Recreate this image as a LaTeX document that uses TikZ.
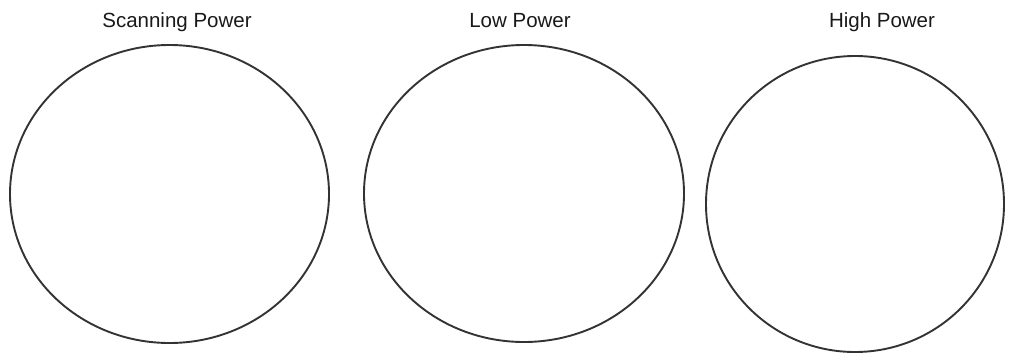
\documentclass[tikz,border=0pt]{standalone}
\usepackage{fontspec}
\setmainfont{Liberation Sans}
\begin{document}
\begin{tikzpicture}[x=1pt,y=-1pt,
  ring/.style={draw=black!80,line width=1.9pt},
  label/.style={font=\fontsize{20.5}{24}\selectfont,text=black!90,inner sep=0pt,anchor=base}]
\useasboundingbox (0,0) rectangle (1014,354);
\draw[ring] (169.5,194) ellipse [x radius=159.5,y radius=149];
\draw[ring] (524,193.5) ellipse [x radius=160,y radius=148.5];
\draw[ring] (855,204) ellipse [x radius=149,y radius=148];
\node[label] (s) at (177,27) {Scanning Power};
\node[label] (l) at (520,27) {Low Power};
\node[label] (h) at (882,27) {High Power};
\end{tikzpicture}
\end{document}
